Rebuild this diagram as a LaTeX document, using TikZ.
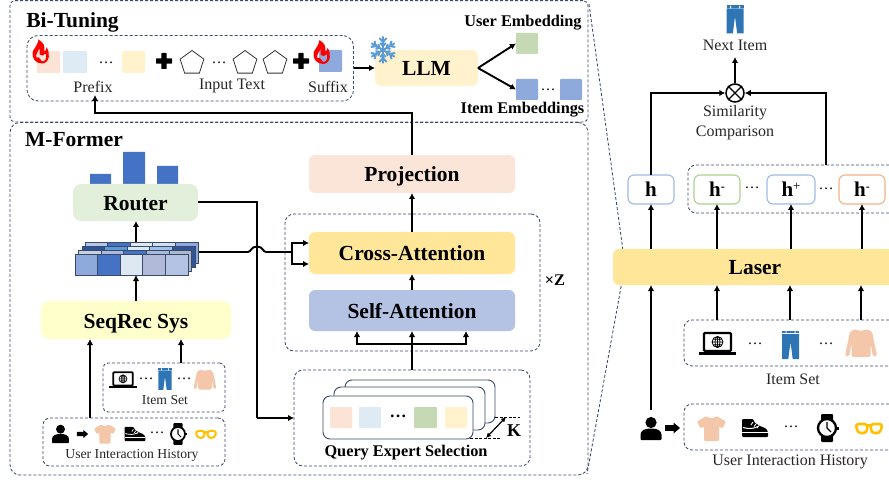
\documentclass[tikz,border=0pt]{standalone}
\usepackage{fontspec}
\setmainfont{Liberation Serif}
\usetikzlibrary{arrows.meta,shapes.geometric,calc}
\definecolor{dashc}{HTML}{3B4A6B}
\definecolor{peach}{HTML}{FBE3D6}
\definecolor{lblue}{HTML}{DEEAF4}
\definecolor{cream}{HTML}{FFF2CC}
\definecolor{mblue}{HTML}{8EA9DB}
\definecolor{mgreen}{HTML}{C5D9B4}
\definecolor{skin}{HTML}{F4C7AB}
\definecolor{jean}{HTML}{2E75B6}
\definecolor{amber}{HTML}{FFE699}
\definecolor{lav}{HTML}{B4C3E4}
\definecolor{bar}{HTML}{4472C4}
\definecolor{goldc}{HTML}{FFC000}
\definecolor{snowc}{HTML}{5B9BD5}
\definecolor{routerc}{HTML}{E2EFDA}
\definecolor{seqc}{HTML}{FFFFCC}
\definecolor{hblue}{HTML}{9DBAE5}
\definecolor{hgreen}{HTML}{A9D18E}
\definecolor{horange}{HTML}{F4B183}
\tikzset{
  x=1pt,y=-1pt,
  bx/.style={rectangle,rounded corners=6pt,inner sep=0pt,outer sep=0pt,text=black},
  sq/.style={rectangle,rounded corners=0.8pt,inner sep=0pt,outer sep=0pt},
  dbox/.style={bx,draw=dashc,line width=0.85pt,dash pattern=on 3pt off 2pt,rounded corners=9pt},
  bigt/.style={font=\fontsize{21.5}{24}\bfseries\selectfont,text height=16pt,text depth=0pt},
  midt/.style={font=\fontsize{16.3}{18}\bfseries\selectfont,inner sep=0pt},
  lab/.style={font=\fontsize{16}{18}\selectfont,inner sep=0pt,text=black!85},
  smallt/.style={font=\fontsize{13.7}{16}\selectfont,inner sep=0pt,text=black!85},
  dotst/.style={font=\fontsize{15}{15}\selectfont,inner sep=0pt},
  arr/.style={line width=1.9pt,-{Latex[length=6pt,width=6.5pt]},black},
  lin/.style={line width=1.9pt,black},
  hbox/.style={bx,draw=#1,line width=1.1pt,fill=white,font=\fontsize{21}{24}\bfseries\selectfont,text height=14pt,text depth=0pt},
  card/.style={bx,draw=dashc,line width=0.9pt,fill=white,rounded corners=7pt},
  cell/.style={rectangle,draw=dashc,line width=0.7pt,inner sep=0pt,outer sep=0pt,minimum width=22.6pt,minimum height=21pt},
  pent/.style={regular polygon,regular polygon sides=5,draw=black!80,line width=0.8pt,inner sep=0pt,minimum size=25pt,fill=white},
}
\newcommand{\bx}[7][]{%
  \pgfmathsetmacro{\cxx}{(#3+#5)/2}\pgfmathsetmacro{\cyy}{(#4+#6)/2}%
  \pgfmathsetmacro{\wxx}{#5-#3}\pgfmathsetmacro{\hyy}{#6-#4}%
  \node[#1,minimum width=\wxx pt,minimum height=\hyy pt] (#2) at (\cxx,\cyy) {#7};}
\newcommand{\jeansicon}[3]{\begin{scope}[shift={(#1,#2)},scale=#3]
  \fill[jean] (-8.5,-14) rectangle (8.5,-11.6);
  \fill[jean] (-8.5,-11) -- (8.5,-11) -- (8.5,14) -- (2.2,14) -- (0,-3) -- (-2.2,14) -- (-8.5,14) -- cycle;
  \fill[white] (-5,-13.6) rectangle (-4,-11) (4,-13.6) rectangle (5,-11);
\end{scope}}
\newcommand{\sweatericon}[3]{\begin{scope}[shift={(#1,#2)},scale=#3]
  \fill[skin,rounded corners=1.5pt] (-5,-14) .. controls (-2,-12) and (2,-12) .. (5,-14) -- (11,-11.5) -- (16,13) -- (12,13.5) -- (9.5,0) -- (9.5,14) -- (-9.5,14) -- (-9.5,0) -- (-12,13.5) -- (-16,13) -- (-11,-11.5) -- cycle;
\end{scope}}
\newcommand{\tshirticon}[3]{\begin{scope}[shift={(#1,#2)},scale=#3]
  \fill[skin,rounded corners=1pt] (-5,-12.5) .. controls (-2,-10) and (2,-10) .. (5,-12.5) -- (14.5,-7) -- (11,0) -- (7.5,-2) -- (7.5,12.5) -- (-7.5,12.5) -- (-7.5,-2) -- (-11,0) -- (-14.5,-7) -- cycle;
\end{scope}}
\newcommand{\shoeicon}[3]{\begin{scope}[shift={(#1,#2)},scale=#3]
  \fill[black,rounded corners=1pt] (-13,-9) -- (-2,-9) -- (0,-5) -- (5,-2) -- (11,0.5) -- (13,4) -- (13,9) -- (-13,9) -- cycle;
  \draw[white,line width=#3*1.1pt] (-13,4.5) -- (13,4.5);
  \draw[white,line width=#3*1pt] (-12,-0.5) .. controls (-6,1) and (-2,1) .. (3,-1.5);
  \draw[white,line width=#3*0.9pt] (-2,-6) -- (-4,-3) (1,-4) -- (-1,-1.5) (4,-2.5) -- (2,0);
\end{scope}}
\newcommand{\watchicon}[3]{\begin{scope}[shift={(#1,#2)},scale=#3]
  \fill[black,rounded corners=1pt] (-6,-14) rectangle (6,-6) (-6,6) rectangle (6,14);
  \fill[black] (9.5,-1.5) rectangle (11.5,1.5);
  \draw[black,fill=white,line width=#3*2.3pt] (0,0) circle[radius=9];
  \draw[black,line width=#3*1.3pt] (0,-6) -- (0,0) -- (4,4);
\end{scope}}
\newcommand{\glassicon}[3]{\begin{scope}[shift={(#1,#2)},scale=#3]
  \draw[draw=goldc,line width=#3*2.6pt,rounded corners=3pt] (-13.5,-4) -- (-1.5,-4) -- (-2.5,5) -- (-11,5) -- cycle (1.5,-4) -- (13.5,-4) -- (11,5) -- (2.5,5) -- cycle (-1.5,-2.5) -- (1.5,-2.5);
\end{scope}}
\newcommand{\laptopicon}[3]{\begin{scope}[shift={(#1,#2)},scale=#3]
  \draw[black,fill=white,line width=#3*2.4pt,rounded corners=1pt] (-13.5,-10.5) rectangle (13.5,7.5);
  \fill[black] (-18.5,8.5) rectangle (18.5,11.5);
  \draw[black,line width=#3*0.8pt] (0,-1.5) circle[radius=5.5] (0,-7) -- (0,4) (-5.5,-1.5) -- (5.5,-1.5) (-4.6,-4.3) -- (4.6,-4.3) (-4.6,1.3) -- (4.6,1.3);
  \draw[black,line width=#3*0.8pt] (0,-1.5) ellipse[x radius=2.5,y radius=5.5];
\end{scope}}
\newcommand{\personicon}[3]{\begin{scope}[shift={(#1,#2)},scale=#3]
  \fill[black] (0,-6) circle[radius=5.6];
  \fill[black,rounded corners=0.8pt] (-10.5,11.5) -- (-10.5,7) .. controls (-10.5,2) and (-6,0) .. (0,0) .. controls (6,0) and (10.5,2) .. (10.5,7) -- (10.5,11.5) -- cycle;
\end{scope}}
\newcommand{\blockarrow}[3]{\begin{scope}[shift={(#1,#2)},scale=#3]
  \fill[black] (-7.5,-2.8) -- (1,-2.8) -- (1,-5.5) -- (7.5,0) -- (1,5.5) -- (1,2.8) -- (-7.5,2.8) -- cycle;
\end{scope}}
\newcommand{\flameicon}[3]{\begin{scope}[shift={(#1,#2)},scale=#3]
  \fill[red,even odd rule] (1,12) .. controls (-6,12) and (-9.5,7) .. (-9,1.5) .. controls (-8.5,-3) and (-4.5,-4) .. (-3,-12) .. controls (2,-9) and (4,-5) .. (2.5,0) .. controls (4,-0.5) and (5,-2) .. (5,-4) .. controls (8.5,0) and (9,11) .. (1,12) -- cycle
  (1.5,10) .. controls (5,9) and (5.5,5) .. (4,2) .. controls (3,4) and (0,5) .. (-2,3) .. controls (-3,1) and (-1,-1) .. (-2,-3) .. controls (-3,0) and (-6,2) .. (-5,6) .. controls (-4,5) and (-2,6) .. (-1,8) .. controls (-0.5,9) and (0,10) .. (1.5,10) -- cycle;
\end{scope}}
\newcommand{\snowicon}[3]{\begin{scope}[shift={(#1,#2)},scale=#3]
  \foreach \ang in {30,90,150,210,270,330}{
    \draw[rotate=\ang,draw=snowc,line width=1.9pt] (0,0) -- (13.5,0) (8,0) -- (12,3.6) (8,0) -- (12,-3.6) (4,0) -- (7,2.8) (4,0) -- (7,-2.8);}
\end{scope}}
\newcommand{\plusicon}[2]{\fill[black,rounded corners=0.5pt] (#1-8,#2-2.7) rectangle (#1+8,#2+2.7) (#1-2.7,#2-8) rectangle (#1+2.7,#2+8);}
\begin{document}
\begin{tikzpicture}
\useasboundingbox (0,0) rectangle (889,481);
% outer frames
\bx[dbox,rounded corners=5pt]{bituning}{10}{0.6}{588}{122}{}
\bx[dbox,rounded corners=10pt]{mformer}{10}{122.5}{588}{475}{}
\coordinate (apex) at (625,265);
\coordinate (zoomtop) at (589,4);
\coordinate (zoomend) at (587,474);
\draw[draw=dashc,line width=0.85pt,dash pattern=on 3pt off 2pt] (zoomtop) -- (apex) -- (zoomend);
\node[bigt,inner sep=0pt] (t1) at (72.5,19.5) {Bi-Tuning};
\node[bigt,inner sep=0pt] (t2) at (74,139) {M-Former};
% Bi-Tuning
\bx[dbox,rounded corners=11pt]{promptbox}{27}{35.5}{353.5}{101}{}
\bx[sq,fill=peach]{pa}{37}{51}{60}{73}{}
\bx[sq,fill=lblue]{pb}{63}{51}{87}{73}{}
\bx[sq,fill=cream]{pc}{122}{51}{145}{73}{}
\bx[sq,fill=mblue]{pd}{319}{50}{342}{72}{}
\node[dotst] (pdots) at (106,63) {…};
\node[dotst] (idots) at (219,63) {…};
\plusicon{164}{61}
\plusicon{301}{61}
\node[pent] (pe1) at (192,63) {};
\node[pent] (pe2) at (245,63) {};
\node[pent] (pe3) at (275,63) {};
\flameicon{41.5}{51.5}{1}
\flameicon{322.5}{52}{1}
\node[lab] (prefix) at (93,87) {Prefix};
\node[lab] (inputt) at (232,86) {Input Text};
\node[lab] (suffix) at (328,87) {Suffix};
\bx[bx,fill=cream,bigt]{llm}{375}{50}{478}{86}{LLM}
\snowicon{383}{50}{1}
\bx[sq,fill=mgreen]{ue}{516}{33}{538}{54}{}
\bx[sq,fill=mblue]{ie1}{516}{79}{538}{100}{}
\bx[sq,fill=mblue]{ie2}{560}{79}{582}{100}{}
\node[dotst] (edots) at (548,90) {…};
\node[midt] (uelab) at (523,23) {User Embedding};
\node[midt] (ielab) at (522.5,110) {Item Embeddings};
\draw[arr,line width=1.4pt] (promptbox.east |- llm.west) -- (llm.west);
\draw[arr] (llm.east) -- (ue.west);
\draw[arr] (llm.east) -- (ie1.west);
% M-Former right column
\bx[bx,fill=peach!95!white,bigt]{proj}{309}{155}{515}{193}{Projection}
\bx[dbox]{zbox}{285}{214}{540}{351}{}
\bx[bx,fill=amber,bigt]{cross}{309}{232}{515}{274}{Cross-Attention}
\bx[bx,fill=lav,bigt]{self}{309}{290}{515}{331}{Self-Attention}
\node[midt] (zlab) at (555,280) {×Z};
\bx[dbox]{qbox}{294}{370}{530}{466}{}
\bx[card]{c3}{345}{380}{495}{423}{}
\bx[card]{c2}{334}{387}{485}{430}{}
\bx[card]{c1}{323}{396}{473}{439}{}
\bx[sq,fill=peach]{q1}{330}{407}{352}{428}{}
\bx[sq,fill=lblue]{q2}{359}{407}{381}{428}{}
\bx[sq,fill=mgreen]{q3}{414}{407}{437}{428}{}
\bx[sq,fill=cream]{q4}{445}{407}{467}{428}{}
\node[font=\fontsize{17}{17}\bfseries\selectfont,inner sep=0pt] (qdots) at (398,416) {…};
\node[midt] (qlab) at (406,453) {Query Expert Selection};
\node[midt,font=\fontsize{18}{18}\bfseries\selectfont] (klab) at (514,431) {K};
\coordinate (k1a) at (495,417); \coordinate (k1b) at (520,417);
\coordinate (k2a) at (470,438); \coordinate (k2b) at (500,438);
\coordinate (kh1) at (486,438); \coordinate (kh2) at (506,417);
\draw[black,line width=0.8pt,dash pattern=on 3pt off 1.5pt] (k1a) -- (k1b) (k2a) -- (k2b);
\draw[black,line width=1.2pt,{Latex[length=5pt,width=5pt]}-{Latex[length=5pt,width=5pt]}] (kh1) -- (kh2);
\draw[arr] (self.north) -- (cross.south);
\draw[arr] (cross.north) -- (proj.south);
\coordinate (qup) at (412,370);
\coordinate (branch) at (412,344);
\draw[lin] (qup) -- (branch);
\draw[arr] (branch) -- (self.south);
\draw[arr] (branch) -- (357,344) -- (357,0 |- self.south);
\draw[arr] (branch) -- (466,344) -- (466,0 |- self.south);
\draw[arr] (proj.north) -- (412,113) -- (95,113) -- (95,95);
% M-Former left column
\fill[bar] (90,174) rectangle (111,184) (123,152) rectangle (145,184) (157,166) rectangle (178,184);
\bx[bx,fill=routerc,bigt,rounded corners=8pt]{router}{73}{184}{198}{221}{Router}
% stacked table
\foreach \xo/\yo/\ca/\cb/\cc/\cd/\ce in {
    10/242/B4C7E7/4472C4/DDE8F3/D3DEEE/8EA9DB,
    7/246/2F5597/5B9BD5/DDEBF7/9DC3E6/2F5597,
    3.5/250/C5D3DC/A9B8DC/4472C4/A9B8DC/ACB9CA,
    0/254/8EA9DB/4472C4/DDE8F3/B0B9D8/B4C3E4}{
  \foreach \col/\idx in {\ca/0,\cb/1,\cc/2,\cd/3,\ce/4}{
    \definecolor{tmpc}{HTML}{\col}
    \pgfmathsetmacro{\xx}{75+\xo+22.6*\idx+11.3}
    \pgfmathsetmacro{\yy}{\yo+10.5}
    \node[cell,fill=tmpc] at (\xx,\yy) {};
  }
}
\coordinate (cubetop) at (136,242);
\coordinate (cubebot) at (136,275);
\coordinate (cuberight) at (199,252);
\bx[bx,fill=seqc,bigt,rounded corners=8pt]{seq}{41}{301}{231}{339}{SeqRec Sys}
\bx[dbox,rounded corners=5pt]{iset}{103}{363}{225}{412}{}
\bx[dbox,rounded corners=7pt]{hist}{43}{418}{225}{466}{}
\laptopicon{123}{380}{0.73}
\node[dotst] (d1) at (146,379) {…};
\jeansicon{165}{379}{0.78}
\node[dotst] (d2) at (184,379) {…};
\sweatericon{205}{379.5}{0.72}
\node[smallt] (isl) at (165,400) {Item Set};
\personicon{60.5}{434}{0.8}
\blockarrow{82.5}{434}{0.75}
\tshirticon{105}{434}{0.76}
\shoeicon{135}{434}{0.8}
\node[dotst] (d3) at (157,433) {…};
\watchicon{178}{434}{0.78}
\glassicon{206}{434}{0.78}
\node[smallt] (hl) at (132,455) {User Interaction History};
\draw[arr] (136,0 |- cubetop) -- (136,0 |- router.south);
\draw[arr] (136,0 |- seq.north) -- (cubebot);
\draw[arr] (90,0 |- hist.north) -- (90,0 |- seq.south);
\draw[arr] (181,0 |- iset.north) -- (181,0 |- seq.south);
\draw[lin] (router.east |- 0,202) -- (257,202) -- (257,418);
\draw[arr] (257,418) -- (qbox.west |- 0,418);
\coordinate (fork) at (292,252);
\draw[lin] (cuberight) -- (248,252) .. controls (251,252) and (251,246.5) .. (257,246.5) .. controls (263,246.5) and (263,252) .. (266,252) -- (fork);
\draw[arr] (fork) -- (292,243) -- (cross.west |- 0,243);
\draw[arr] (fork) -- (292,264) -- (cross.west |- 0,264);
% right panel
\jeansicon{735}{19.5}{1}
\node[lab] (nextl) at (735,45.5) {Next Item};
\node[circle,draw=black,line width=1.5pt,minimum size=18pt,inner sep=0pt,fill=white] (sim) at (735,93) {};
\draw[black,line width=1.3pt] (sim.north west) -- (sim.south east) (sim.north east) -- (sim.south west);
\node[lab] (siml) at (735,112.5) {Similarity};
\node[lab] (compl) at (735,132.5) {Comparison};
\draw[arr] (sim.north) -- (735,57);
\bx[dbox,rounded corners=8pt]{negbox}{688}{165}{902}{213}{}
\bx[hbox=hblue]{h0}{628}{175}{674}{204}{h}
\bx[hbox=hgreen]{h1}{694}{175}{740}{204}{h\raisebox{6pt}{\fontsize{12}{12}\selectfont -}}
\bx[hbox=hblue]{h2}{767}{175}{815}{204}{h\raisebox{6pt}{\fontsize{13}{13}\mdseries\selectfont +}}
\bx[hbox=horange]{h3}{839}{175}{885}{204}{h\raisebox{6pt}{\fontsize{12}{12}\selectfont -}}
\node[dotst] (rd1) at (752,188) {…};
\node[dotst] (rd2) at (826,189) {…};
\draw[arr] (h0.north) -- (651,0 |- sim.west) -- (sim.west);
\draw[arr] (826,0 |- negbox.north) -- (826,0 |- sim.east) -- (sim.east);
\bx[bx,fill=amber,bigt]{laser}{613}{249}{897}{285}{Laser}
\draw[arr] (laser.north -| h0.south) -- (h0.south);
\draw[arr] (laser.north -| h1.south) -- (h1.south);
\draw[arr] (laser.north -| h2.south) -- (h2.south);
\draw[arr] (laser.north -| h3.south) -- (h3.south);
\bx[dbox,rounded corners=8pt]{rset}{684}{320}{902}{366}{}
\bx[dbox,rounded corners=8pt]{rhist}{684}{404}{902}{450}{}
\laptopicon{717.5}{343.5}{1}
\node[dotst] (rd3) at (755,344) {…};
\jeansicon{790.5}{345}{1}
\node[dotst] (rd4) at (826,344) {…};
\sweatericon{861}{343}{1}
\node[lab] (rsl) at (793,379) {Item Set};
\personicon{651}{428.5}{1}
\blockarrow{672.5}{428}{1}
\tshirticon{711.5}{428.5}{1}
\shoeicon{755}{428}{1}
\node[dotst] (rd5) at (791,427) {…};
\watchicon{827}{428}{1}
\glassicon{869}{428}{1}
\node[lab] (rhl) at (790,461.5) {User Interaction History};
\coordinate (uarrow) at (651,410);
\draw[arr] (uarrow) -- (651,0 |- laser.south);
\draw[arr] (717,0 |- rset.north) -- (717,0 |- laser.south);
\draw[arr] (790,0 |- rset.north) -- (790,0 |- laser.south);
\draw[arr] (861,0 |- rset.north) -- (861,0 |- laser.south);
\end{tikzpicture}
\end{document}
